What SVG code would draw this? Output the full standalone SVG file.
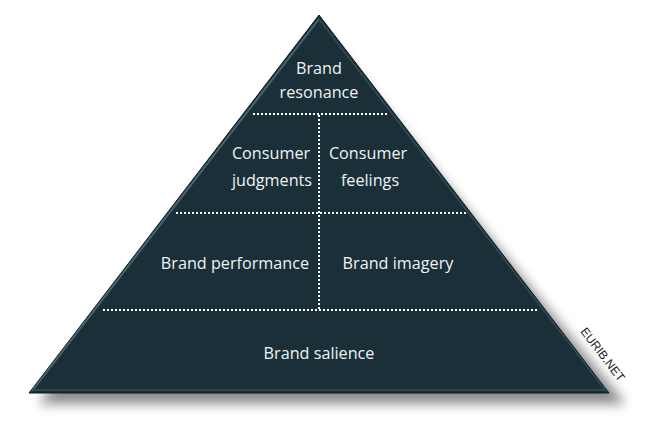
<svg xmlns="http://www.w3.org/2000/svg" width="649" height="427" viewBox="0 0 649 427">
<style>
.lbl{font-family:"Open Sans","Liberation Sans",sans-serif;font-size:16.2px;fill:#eef3f5;text-anchor:middle}
.div{stroke:#ffffff;stroke-width:2;stroke-dasharray:2 2;fill:none}
</style>
<defs>
<filter id="sh" x="-10%" y="-10%" width="130%" height="130%">
<feGaussianBlur stdDeviation="6"/>
</filter>
</defs>
<rect width="649" height="427" fill="#ffffff"/>
<path d="M333 45 L626 404 L38 404 Z" fill="#000" opacity="0.45" filter="url(#sh)"/>
<g id="pyramid">
<path d="M319 15 L609 393 L29 393 Z" fill="#1b2f38" stroke="#0f1c22" stroke-width="1"/>
<path d="M319 19 L32 391" stroke="#54707c" stroke-width="2" fill="none" opacity="0.8"/>
<path d="M319 19 L606 391" stroke="#3a525c" stroke-width="1.5" fill="none" opacity="0.8"/>
<path d="M33 390 L605 390" stroke="#2c444e" stroke-width="2" fill="none"/>
</g>
<g id="connectors">
<line class="div" x1="253" y1="114" x2="387" y2="114"/>
<line class="div" x1="176" y1="213" x2="466" y2="213"/>
<line class="div" x1="103" y1="310" x2="537" y2="310"/>
<line class="div" x1="319" y1="115" x2="319" y2="309"/>
</g>
<g id="resonance"><text class="lbl" x="319" y="74">Brand</text><text class="lbl" x="319" y="98">resonance</text></g>
<g id="judgments"><text class="lbl" x="271" y="159">Consumer</text><text class="lbl" x="272" y="186">judgments</text></g>
<g id="feelings"><text class="lbl" x="368" y="159">Consumer</text><text class="lbl" x="370" y="186">feelings</text></g>
<g id="performance"><text class="lbl" x="235" y="269">Brand performance</text></g>
<g id="imagery"><text class="lbl" x="398" y="269">Brand imagery</text></g>
<g id="salience"><text class="lbl" x="319" y="359">Brand salience</text></g>
<text x="602" y="355" transform="rotate(52.5 602 355)" font-family="Liberation Sans,Arial,sans-serif" font-size="12" fill="#1a1a1a" text-anchor="middle" dominant-baseline="middle">EURIB.NET</text>
</svg>
